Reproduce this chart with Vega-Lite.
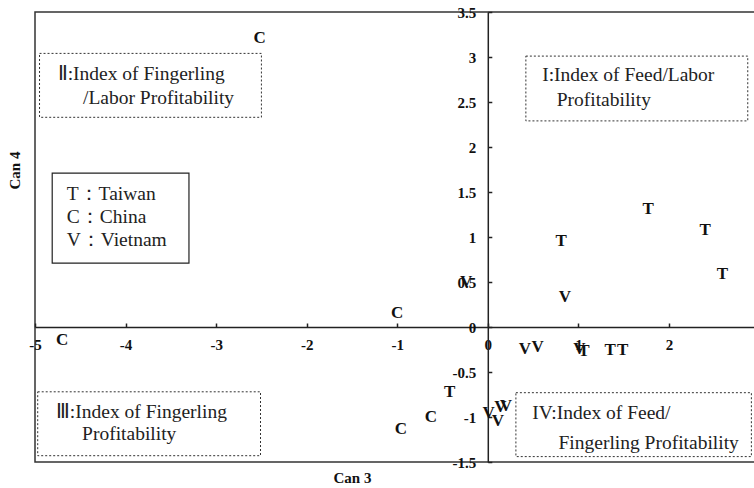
{
  "$schema": "https://vega.github.io/schema/vega-lite/v6.json",
  "width": 720,
  "height": 450,
  "autosize": "none",
  "padding": {"left": 35, "top": 12, "right": 0, "bottom": 26},
  "background": "white",
  "config": {
    "view": {"stroke": "#333", "strokeWidth": 1.5},
    "font": "Liberation Serif"
  },
  "encoding": {
    "x": {
      "field": "x", "type": "quantitative",
      "scale": {"domain": [-5, 2.95], "nice": false, "zero": false},
      "axis": {
        "orient": "bottom",
        "offset": -135,
        "values": [-5, -4, -3, -2, -1, 0, 1, 2],
        "labelExpr": "'' + datum.value",
        "labelFlush": false,
        "labelOverlap": false,
        "grid": false,
        "domainColor": "#222", "domainWidth": 1.5,
        "tickColor": "#222", "tickSize": -4, "tickWidth": 1.5,
        "labelFont": "Liberation Serif", "labelFontWeight": "bold", "labelFontSize": 15, "labelColor": "#111",
        "labelPadding": 14,
        "title": "Can 3",
        "titleFont": "Liberation Serif", "titleFontWeight": "bold", "titleFontSize": 15, "titleColor": "#111",
        "titleX": 317, "titleY": 150, "titleBaseline": "middle", "titleAlign": "center"
      }
    },
    "y": {
      "field": "y", "type": "quantitative",
      "scale": {"domain": [-1.5, 3.5], "nice": false, "zero": false},
      "axis": {
        "orient": "left",
        "offset": -452.8,
        "values": [-1.5, -1, -0.5, 0, 0.5, 1, 1.5, 2, 2.5, 3, 3.5],
        "labelExpr": "'' + datum.value",
        "labelFlush": false,
        "labelOverlap": false,
        "grid": false,
        "domainColor": "#222", "domainWidth": 1.5,
        "tickColor": "#222", "tickSize": -4, "tickWidth": 1.5,
        "labelFont": "Liberation Serif", "labelFontWeight": "bold", "labelFontSize": 15, "labelColor": "#111",
        "labelPadding": 16,
        "title": "Can 4",
        "titleFont": "Liberation Serif", "titleFontWeight": "bold", "titleFontSize": 15, "titleColor": "#111",
        "titleX": -473, "titleY": 158, "titleAngle": -90, "titleBaseline": "middle", "titleAlign": "center"
      }
    }
  },
  "layer": [
    {
      "data": {"values": [
        {"x": -4.95, "x2": -2.50, "y": 3.04, "y2": 2.33},
        {"x": -4.97, "x2": -2.51, "y": -0.72, "y2": -1.43},
        {"x": 0.42, "x2": 2.87, "y": 3.01, "y2": 2.29},
        {"x": 0.31, "x2": 2.91, "y": -0.73, "y2": -1.44}
      ]},
      "mark": {"type": "rect", "fill": null, "stroke": "#333", "strokeWidth": 1, "strokeDash": [2, 2]},
      "encoding": {"x2": {"field": "x2"}, "y2": {"field": "y2"}}
    },
    {
      "data": {"values": [
        {"x": -4.81, "x2": -3.30, "y": 1.71, "y2": 0.71}
      ]},
      "mark": {"type": "rect", "fill": null, "stroke": "#222", "strokeWidth": 1.2},
      "encoding": {"x2": {"field": "x2"}, "y2": {"field": "y2"}}
    },
    {
      "data": {"values": [
        {"x": -4.75, "y": 2.81, "text": "Ⅱ:Index of Fingerling"},
        {"x": -4.47, "y": 2.55, "text": "/Labor Profitability"},
        {"x": -4.77, "y": -0.94, "text": "Ⅲ:Index of Fingerling"},
        {"x": -4.48, "y": -1.19, "text": "Profitability"},
        {"x": 0.60, "y": 2.80, "text": "I:Index of Feed/Labor"},
        {"x": 0.76, "y": 2.52, "text": "Profitability"},
        {"x": 0.49, "y": -0.96, "text": "IV:Index of Feed/"},
        {"x": 0.78, "y": -1.29, "text": "Fingerling Profitability"},
        {"x": -4.65, "y": 1.48, "text": "T：Taiwan"},
        {"x": -4.65, "y": 1.22, "text": "C：China"},
        {"x": -4.65, "y": 0.97, "text": "V：Vietnam"}
      ]},
      "mark": {"type": "text", "align": "left", "baseline": "middle", "font": "Liberation Serif", "fontSize": 19.5, "color": "#222"},
      "encoding": {"text": {"field": "text"}}
    },
    {
      "data": {"values": [
        {"x": -2.52, "y": 3.21, "label": "C"},
        {"x": -4.70, "y": -0.14, "label": "C"},
        {"x": -1.00, "y": 0.16, "label": "C"},
        {"x": -0.63, "y": -1.00, "label": "C"},
        {"x": -0.96, "y": -1.13, "label": "C"},
        {"x": 0.81, "y": 0.96, "label": "T"},
        {"x": 1.77, "y": 1.31, "label": "T"},
        {"x": 2.40, "y": 1.08, "label": "T"},
        {"x": 2.59, "y": 0.59, "label": "T"},
        {"x": -0.42, "y": -0.72, "label": "T"},
        {"x": 1.06, "y": -0.27, "label": "T"},
        {"x": 1.35, "y": -0.26, "label": "T"},
        {"x": 1.49, "y": -0.25, "label": "T"},
        {"x": 0.85, "y": 0.33, "label": "V"},
        {"x": -0.24, "y": 0.50, "label": "V"},
        {"x": 0.41, "y": -0.24, "label": "V"},
        {"x": 0.55, "y": -0.22, "label": "V"},
        {"x": 1.01, "y": -0.24, "label": "V"},
        {"x": 0.01, "y": -0.96, "label": "V"},
        {"x": 0.14, "y": -0.89, "label": "V"},
        {"x": 0.20, "y": -0.88, "label": "V"},
        {"x": 0.11, "y": -1.04, "label": "V"}
      ]},
      "mark": {"type": "text", "align": "center", "baseline": "middle", "font": "Liberation Serif", "fontWeight": "bold", "fontSize": 17, "color": "#111"},
      "encoding": {"text": {"field": "label"}}
    }
  ]
}
